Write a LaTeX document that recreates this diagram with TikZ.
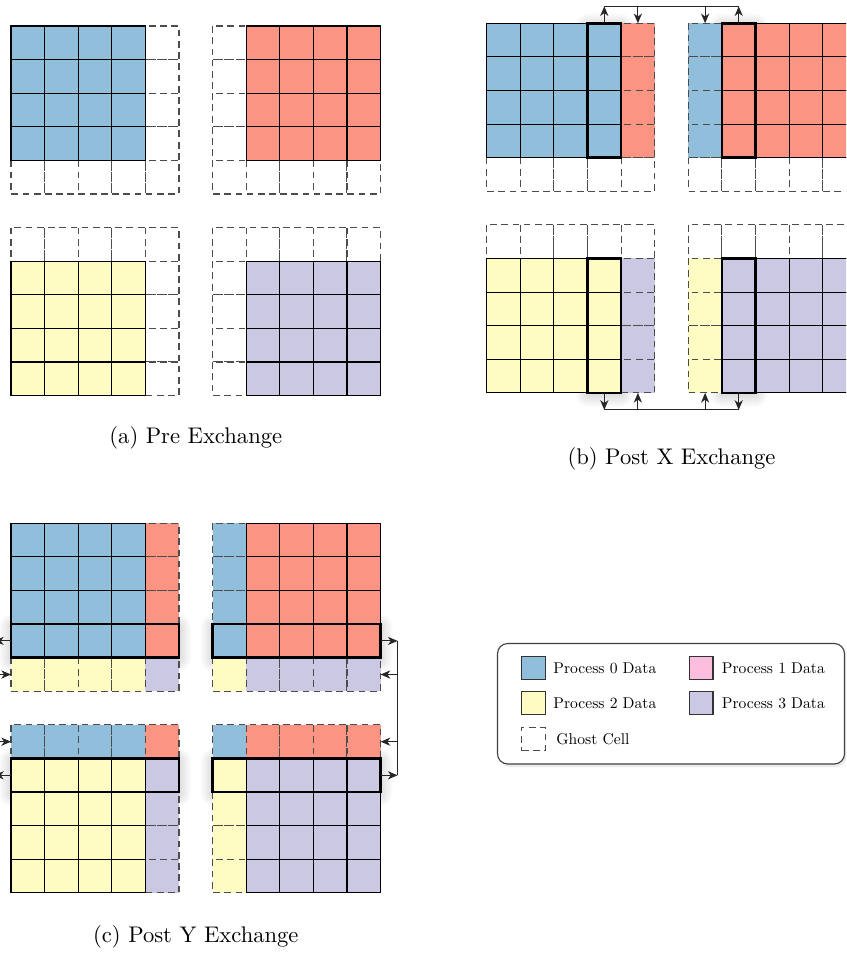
\documentclass[tikz,border=0pt]{standalone}
\usetikzlibrary{arrows.meta}
\definecolor{pzero}{RGB}{145,190,219}
\definecolor{pone}{RGB}{252,148,132}
\definecolor{ptwo}{RGB}{255,252,195}
\definecolor{pthree}{RGB}{202,200,226}
\definecolor{ppink}{RGB}{252,190,220}
\newcommand\cellsz{33.6}
\newcommand\ghc[3]{\filldraw[ghostline,fill=#3] ({#1*\cellsz},{#2*\cellsz}) rectangle ({(#1+1)*\cellsz},{(#2+1)*\cellsz});}
\newcommand\dtc[3]{\filldraw[dataline,fill=#3] ({#1*\cellsz},{#2*\cellsz}) rectangle ({(#1+1)*\cellsz},{(#2+1)*\cellsz});}
\newcommand\bbx[4]{\draw[boldline] ({#1*\cellsz},{#2*\cellsz}) rectangle ({#3*\cellsz},{#4*\cellsz});}
\newcommand\shbx[4]{\foreach \k in {1,...,8}{\fill[black,fill opacity=0.017,rounded corners=\k*0.7pt] ({#1*\cellsz-\k*1.5},{#2*\cellsz-\k*1.5+2}) rectangle ({#3*\cellsz+\k*1.5},{#4*\cellsz+\k*1.5+2});}}
\newcommand\legtext[1]{\scalebox{0.69}{\fontsize{10}{12}\selectfont #1}}
\tikzset{
  ghostline/.style={draw=black!70,line width=0.45pt,dash pattern=on 3pt off 2pt},
  dataline/.style={draw=black,line width=0.45pt},
  boldline/.style={draw=black,line width=1.1pt},
  arr/.style={-{Stealth[length=4.3pt,width=3.6pt,inset=1.3pt]},line width=0.5pt,black!85},
  link/.style={line width=0.5pt,black!85},
  captxt/.style={font=\normalsize,inner sep=0pt},
  legtxt/.style={inner sep=0pt,anchor=west},
  legsq/.style={draw=black!80,line width=0.5pt,minimum size=10.4pt,inner sep=0pt}
}
\begin{document}
\begin{tikzpicture}[x=0.4425pt,y=-0.4425pt]
\useasboundingbox (0,0) rectangle (846,953);
\clip (0,0) rectangle (846,953);
\fill[white] (0,0) rectangle (846,953);

% ---------------- (a) Pre Exchange ----------------
\begin{scope}[shift={(11,26)}]
  % TL
  \foreach \r in {0,...,4} {\ghc{4}{\r}{white}}
  \foreach \c in {0,...,3} {\ghc{\c}{4}{white}}
  \foreach \c in {0,...,3} {\foreach \r in {0,...,3} {\dtc{\c}{\r}{pzero}}}
  % TR
  \foreach \r in {0,...,4} {\ghc{6}{\r}{white}}
  \foreach \c in {7,...,10} {\ghc{\c}{4}{white}}
  \foreach \c in {7,...,10} {\foreach \r in {0,...,3} {\dtc{\c}{\r}{pone}}}
  % BL
  \foreach \c in {0,...,4} {\ghc{\c}{6}{white}}
  \foreach \r in {7,...,10} {\ghc{4}{\r}{white}}
  \foreach \c in {0,...,3} {\foreach \r in {7,...,10} {\dtc{\c}{\r}{ptwo}}}
  % BR
  \foreach \c in {6,...,10} {\ghc{\c}{6}{white}}
  \foreach \r in {7,...,10} {\ghc{6}{\r}{white}}
  \foreach \c in {7,...,10} {\foreach \r in {7,...,10} {\dtc{\c}{\r}{pthree}}}
\end{scope}
\node[captxt] (capa) at (195.8,438) {(a) Pre Exchange};

% ---------------- (b) Post X Exchange ----------------
\begin{scope}[shift={(486.7,23.3)}]
  \shbx{3}{0}{4}{4}
  \shbx{7}{0}{8}{4}
  \shbx{3}{7}{4}{11}
  \shbx{7}{7}{8}{11}
  % TL
  \foreach \r in {0,...,3} {\ghc{4}{\r}{pone}}
  \foreach \c in {0,...,4} {\ghc{\c}{4}{white}}
  \foreach \c in {0,...,3} {\foreach \r in {0,...,3} {\dtc{\c}{\r}{pzero}}}
  \bbx{3}{0}{4}{4}
  % TR
  \foreach \r in {0,...,3} {\ghc{6}{\r}{pzero}}
  \foreach \c in {6,...,10} {\ghc{\c}{4}{white}}
  \foreach \c in {7,...,10} {\foreach \r in {0,...,3} {\dtc{\c}{\r}{pone}}}
  \bbx{7}{0}{8}{4}
  % BL
  \foreach \c in {0,...,4} {\ghc{\c}{6}{white}}
  \foreach \r in {7,...,10} {\ghc{4}{\r}{pthree}}
  \foreach \c in {0,...,3} {\foreach \r in {7,...,10} {\dtc{\c}{\r}{ptwo}}}
  \bbx{3}{7}{4}{11}
  % BR
  \foreach \c in {6,...,10} {\ghc{\c}{6}{white}}
  \foreach \r in {7,...,10} {\ghc{6}{\r}{ptwo}}
  \foreach \c in {7,...,10} {\foreach \r in {7,...,10} {\dtc{\c}{\r}{pthree}}}
  \bbx{7}{7}{8}{11}
\end{scope}
% arrows of (b)
\coordinate (bt1) at (604.3,23.3);  \coordinate (bl1) at (604.3,6.3);
\coordinate (bt2) at (637.9,23.3);  \coordinate (bl2) at (637.9,6.3);
\coordinate (bt3) at (705.1,23.3);  \coordinate (bl3) at (705.1,6.3);
\coordinate (bt4) at (738.7,23.3);  \coordinate (bl4) at (738.7,6.3);
\draw[link] (bl1) -- (bl4);
\draw[arr] (bt1) -- (bl1);
\draw[arr] (bl2) -- (bt2);
\draw[arr] (bl3) -- (bt3);
\draw[arr] (bt4) -- (bl4);
\coordinate (bb1) at (604.3,392.9);  \coordinate (bm1) at (604.3,409.9);
\coordinate (bb2) at (637.9,392.9);  \coordinate (bm2) at (637.9,409.9);
\coordinate (bb3) at (705.1,392.9);  \coordinate (bm3) at (705.1,409.9);
\coordinate (bb4) at (738.7,392.9);  \coordinate (bm4) at (738.7,409.9);
\draw[link] (bm1) -- (bm4);
\draw[arr] (bb1) -- (bm1);
\draw[arr] (bm2) -- (bb2);
\draw[arr] (bm3) -- (bb3);
\draw[arr] (bb4) -- (bm4);
\node[captxt] (capb) at (671.5,459) {(b) Post X Exchange};

% ---------------- (c) Post Y Exchange ----------------
\begin{scope}[shift={(11,523.3)}]
  \shbx{0}{3}{5}{4}
  \shbx{6}{3}{11}{4}
  \shbx{0}{7}{5}{8}
  \shbx{6}{7}{11}{8}
  % TL
  \foreach \r in {0,...,3} {\ghc{4}{\r}{pone}}
  \foreach \c in {0,...,3} {\ghc{\c}{4}{ptwo}}
  \ghc{4}{4}{pthree}
  \foreach \c in {0,...,3} {\foreach \r in {0,...,3} {\dtc{\c}{\r}{pzero}}}
  \bbx{0}{3}{5}{4}
  % TR
  \foreach \r in {0,...,3} {\ghc{6}{\r}{pzero}}
  \ghc{6}{4}{ptwo}
  \foreach \c in {7,...,10} {\ghc{\c}{4}{pthree}}
  \foreach \c in {7,...,10} {\foreach \r in {0,...,3} {\dtc{\c}{\r}{pone}}}
  \bbx{6}{3}{11}{4}
  % BL
  \foreach \c in {0,...,3} {\ghc{\c}{6}{pzero}}
  \ghc{4}{6}{pone}
  \foreach \r in {7,...,10} {\ghc{4}{\r}{pthree}}
  \foreach \c in {0,...,3} {\foreach \r in {7,...,10} {\dtc{\c}{\r}{ptwo}}}
  \bbx{0}{7}{5}{8}
  % BR
  \ghc{6}{6}{pzero}
  \foreach \c in {7,...,10} {\ghc{\c}{6}{pone}}
  \foreach \r in {7,...,10} {\ghc{6}{\r}{ptwo}}
  \foreach \c in {7,...,10} {\foreach \r in {7,...,10} {\dtc{\c}{\r}{pthree}}}
  \bbx{6}{7}{11}{8}
\end{scope}
% arrows of (c), right side
\coordinate (cr1) at (380.6,640.9); \coordinate (cv1) at (397.6,640.9);
\coordinate (cr2) at (380.6,674.5); \coordinate (cv2) at (397.6,674.5);
\coordinate (cr3) at (380.6,741.7); \coordinate (cv3) at (397.6,741.7);
\coordinate (cr4) at (380.6,775.3); \coordinate (cv4) at (397.6,775.3);
\draw[link] (cv1) -- (cv4);
\draw[arr] (cr1) -- (cv1);
\draw[arr] (cv2) -- (cr2);
\draw[arr] (cv3) -- (cr3);
\draw[arr] (cr4) -- (cv4);
% arrows of (c), left side
\coordinate (cl1) at (11,640.9); \coordinate (cw1) at (-6,640.9);
\coordinate (cl2) at (11,674.5); \coordinate (cw2) at (-6,674.5);
\coordinate (cl3) at (11,741.7); \coordinate (cw3) at (-6,741.7);
\coordinate (cl4) at (11,775.3); \coordinate (cw4) at (-6,775.3);
\draw[link] (cw1) -- (cw4);
\draw[arr] (cl1) -- (cw1);
\draw[arr] (cw2) -- (cl2);
\draw[arr] (cw3) -- (cl3);
\draw[arr] (cl4) -- (cw4);
\node[captxt] (capc) at (195.8,937) {(c) Post Y Exchange};

% ---------------- Legend ----------------
\fill[black,fill opacity=0.08,rounded corners=4.5pt] (499.5,646.5) rectangle (846.5,767);
\draw[black!75,line width=0.5pt,rounded corners=4.5pt,fill=white] (497.5,643.5) rectangle (844.5,764);
\node[legsq,fill=pzero] (l0) at (533.5,668) {};
\node[legtxt] (t0) at (553,668) {\legtext{Process 0 Data}};
\node[legsq,fill=ppink] (l1) at (701.3,668) {};
\node[legtxt] (t1) at (721.5,668) {\legtext{Process 1 Data}};
\node[legsq,fill=ptwo] (l2) at (533.5,703) {};
\node[legtxt] (t2) at (553,703) {\legtext{Process 2 Data}};
\node[legsq,fill=pthree] (l3) at (701.3,703) {};
\node[legtxt] (t3) at (721.5,703) {\legtext{Process 3 Data}};
\node[legsq,draw=black!70,dash pattern=on 3pt off 2pt] (l4) at (533.5,739) {};
\node[legtxt] (t4) at (556,739) {\legtext{Ghost Cell}};
\end{tikzpicture}
\end{document}
